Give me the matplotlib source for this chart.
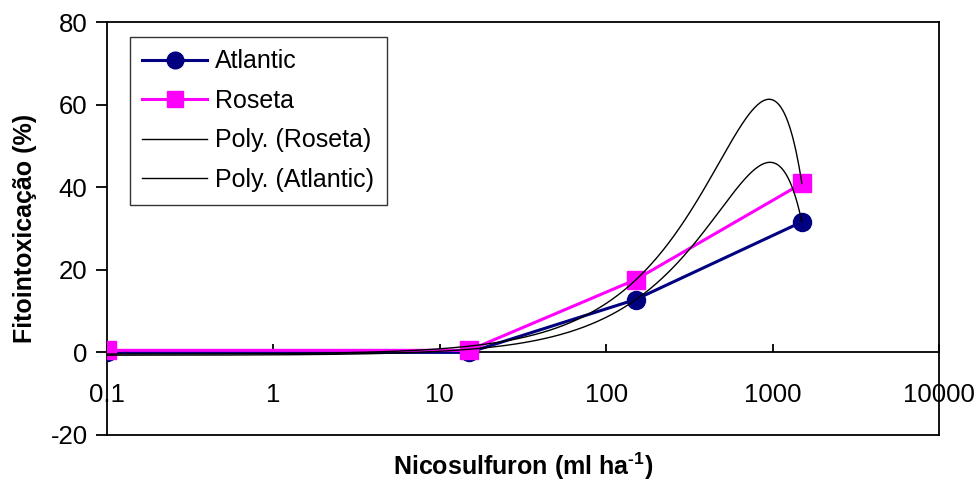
import numpy as np
import matplotlib.pyplot as plt
from matplotlib.lines import Line2D

plt.rcParams['font.family'] = ['Liberation Sans', 'DejaVu Sans']
plt.rcParams['mathtext.fontset'] = 'custom'
plt.rcParams['mathtext.rm'] = 'Liberation Sans:bold'
plt.rcParams['mathtext.bf'] = 'Liberation Sans:bold'
plt.rcParams['axes.unicode_minus'] = False

# doses (log axis, so the zero dose sits at 0.1)
dose = [0.1, 15, 150, 1500]
atlantic = [0.0, 0.0, 12.8, 31.6]
roseta = [0.5, 0.5, 17.6, 40.9]

xticks = [0.1, 1, 10, 100, 1000, 10000]
xtick_labels = ['0.1', '1', '10', '100', '1000', '10000']
yticks = [-20, 0, 20, 40, 60, 80]

fig = plt.figure(figsize=(9.79, 4.95), dpi=100)
ax = fig.add_axes([107 / 979, 60 / 495, 832 / 979, 413 / 495])

ax.plot(dose, atlantic, color='#000080', lw=2.2, marker='o', ms=13,
        label='Atlantic', zorder=3)
ax.plot(dose, roseta, color='#FF00FF', lw=2.2, marker='s', ms=13,
        label='Roseta', zorder=4)

# 2nd order polynomial trendlines fitted on the linear dose
xs = np.logspace(np.log10(dose[0]), np.log10(dose[-1]), 500)
p_ros = np.polyfit(dose, roseta, 2)
p_atl = np.polyfit(dose, atlantic, 2)
ax.plot(xs, np.polyval(p_ros, xs), color='black', lw=1.0, zorder=5)
ax.plot(xs, np.polyval(p_atl, xs), color='black', lw=1.0, zorder=5)

ax.set_xscale('log')
ax.set_xlim(0.1, 10000)
ax.set_ylim(-20, 80)

# x axis crosses at y = 0, box closed at the bottom
ax.spines['bottom'].set_position(('data', 0))
ax.plot([0, 1], [0, 0], transform=ax.transAxes, color='black', lw=1.3,
        clip_on=False, zorder=6)
for s in ax.spines.values():
    s.set_linewidth(1.3)

ax.set_xticks(xticks)
ax.set_xticklabels(xtick_labels)
ax.xaxis.set_minor_locator(plt.NullLocator())
ax.tick_params(axis='x', direction='in', length=6, width=1.3, pad=22,
               labelsize=18.5)
ax.set_yticks(yticks)
ax.tick_params(axis='y', direction='out', length=8, width=1.3, pad=6,
               labelsize=18.5)

ax.set_ylabel('Fitointoxicação (%)', fontsize=18, fontweight='bold',
              labelpad=10)
fig.text((107 + 939) / 2 / 979, 1 - 466 / 495,
         r'Nicosulfuron (ml ha$^{\text{-1}}$)', fontsize=18,
         fontweight='bold', ha='center', va='center')

handles = [
    Line2D([], [], color='#000080', lw=2.2, marker='o', ms=12),
    Line2D([], [], color='#FF00FF', lw=2.2, marker='s', ms=12),
    Line2D([], [], color='black', lw=1.0),
    Line2D([], [], color='black', lw=1.0),
]
labels = ['Atlantic', 'Roseta', 'Poly. (Roseta)', 'Poly. (Atlantic)']
leg = ax.legend(handles, labels, loc='upper left',
                bbox_to_anchor=(23 / 832, 1 - 15 / 413), fontsize=18,
                frameon=True, fancybox=False, shadow=False,
                handlelength=2.6, handletextpad=0.3, labelspacing=0.62,
                borderpad=0.5, borderaxespad=0)
leg.get_frame().set_edgecolor('black')
leg.get_frame().set_linewidth(1.0)

fig.savefig('out.png', dpi=100)
